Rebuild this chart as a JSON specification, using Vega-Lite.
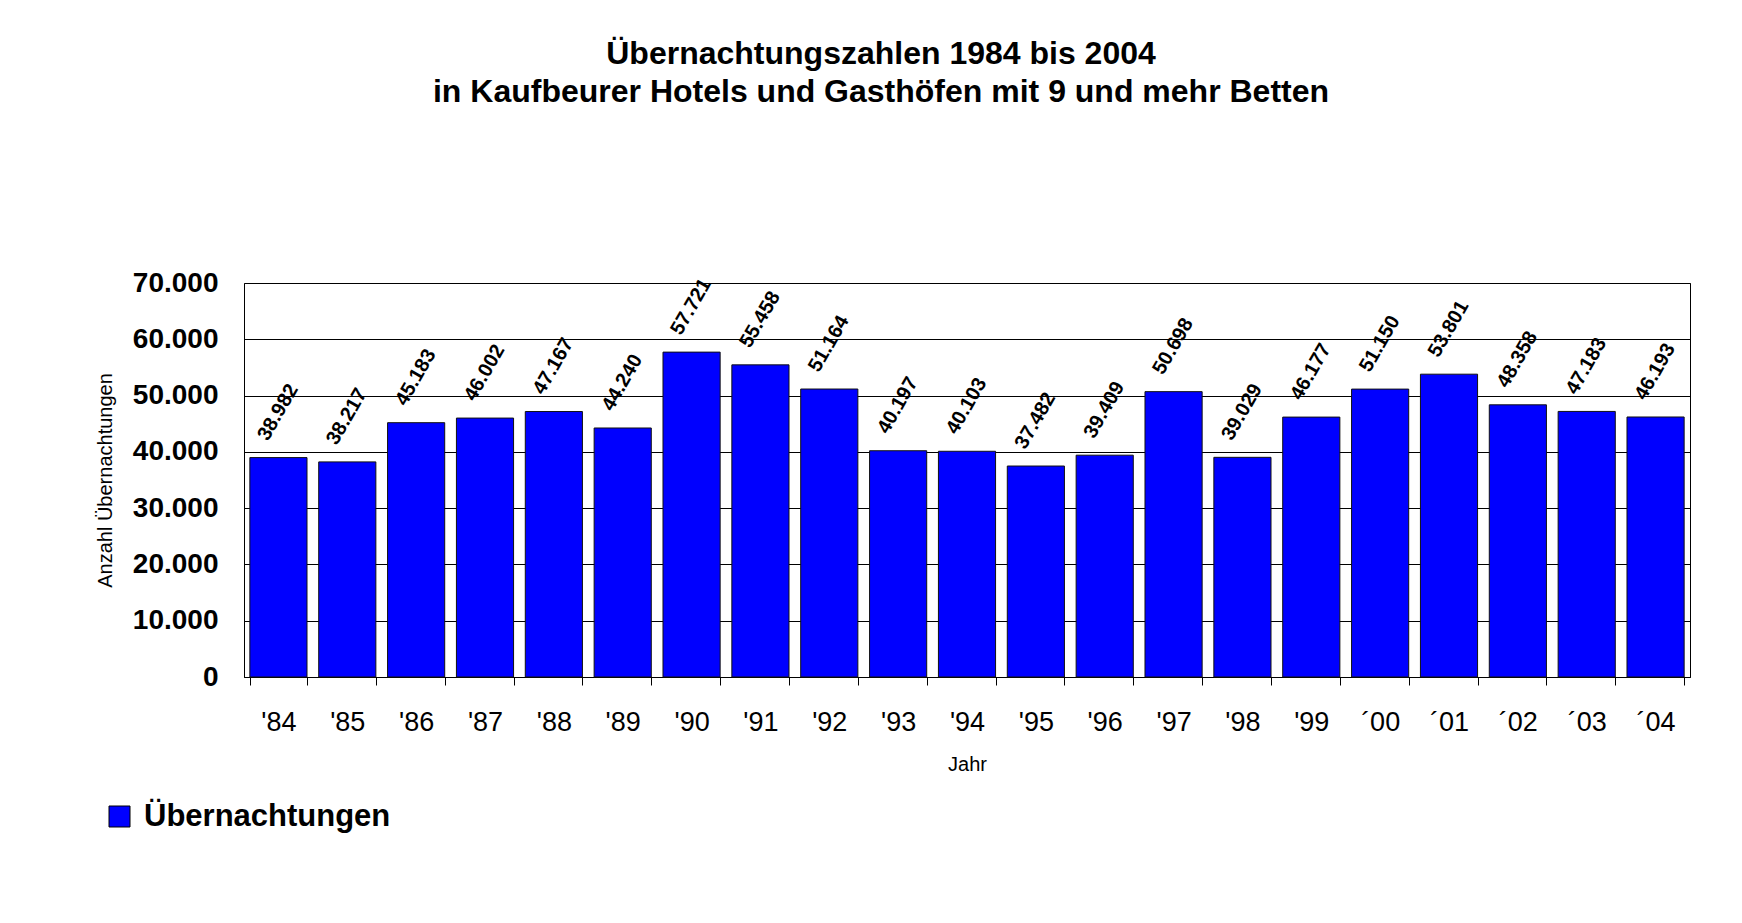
{
  "$schema": "https://vega.github.io/schema/vega-lite/v6.json",
  "autosize": {"type": "none"},
  "width": 1446,
  "height": 394,
  "padding": {"left": 244, "top": 283, "right": 52, "bottom": 246},
  "background": "white",
  "title": {
    "text": ["Übernachtungszahlen 1984 bis 2004", "in Kaufbeurer Hotels und Gasthöfen mit 9 und mehr Betten"],
    "anchor": "middle",
    "frame": "group",
    "dx": -86,
    "offset": 160,
    "font": "Liberation Sans",
    "fontSize": 32,
    "fontWeight": "bold",
    "lineHeight": 38.5,
    "color": "#000000"
  },
  "data": {
    "values": [
      {"jahr": "'84", "wert": 38982},
      {"jahr": "'85", "wert": 38217},
      {"jahr": "'86", "wert": 45183},
      {"jahr": "'87", "wert": 46002},
      {"jahr": "'88", "wert": 47167},
      {"jahr": "'89", "wert": 44240},
      {"jahr": "'90", "wert": 57721},
      {"jahr": "'91", "wert": 55458},
      {"jahr": "'92", "wert": 51164},
      {"jahr": "'93", "wert": 40197},
      {"jahr": "'94", "wert": 40103},
      {"jahr": "'95", "wert": 37482},
      {"jahr": "'96", "wert": 39409},
      {"jahr": "'97", "wert": 50698},
      {"jahr": "'98", "wert": 39029},
      {"jahr": "'99", "wert": 46177},
      {"jahr": "´00", "wert": 51150},
      {"jahr": "´01", "wert": 53801},
      {"jahr": "´02", "wert": 48358},
      {"jahr": "´03", "wert": 47183},
      {"jahr": "´04", "wert": 46193}
    ]
  },
  "encoding": {
    "x": {
      "field": "jahr",
      "type": "nominal",
      "sort": null,
      "scale": {"paddingInner": 0.17, "paddingOuter": 0.085},
      "axis": {
        "title": "Jahr",
        "labelFont": "Liberation Sans",
        "labelFontSize": 27,
        "labelAngle": 0,
        "labelColor": "#000000",
        "labelPadding": 24,
        "tickBand": "extent",
        "tickSize": 8,
        "tickColor": "#000000",
        "domainColor": "#000000",
        "grid": false,
        "titleFont": "Liberation Sans",
        "titleFontSize": 20,
        "titleFontWeight": "normal",
        "titleColor": "#000000",
        "titlePadding": 19
      }
    },
    "y": {
      "field": "wert",
      "type": "quantitative",
      "scale": {"domain": [0, 70000], "nice": false},
      "axis": {
        "title": "Anzahl Übernachtungen",
        "values": [0, 10000, 20000, 30000, 40000, 50000, 60000, 70000],
        "format": ",d",
        "labelFont": "Liberation Sans",
        "labelFontWeight": "bold",
        "labelFontSize": 28,
        "labelColor": "#000000",
        "labelPadding": 26,
        "ticks": false,
        "domain": false,
        "grid": true,
        "gridColor": "#000000",
        "gridWidth": 1,
        "gridOpacity": 1,
        "titleFont": "Liberation Sans",
        "titleFontSize": 20,
        "titleFontWeight": "normal",
        "titleColor": "#000000",
        "titlePadding": 17
      }
    }
  },
  "layer": [
    {
      "mark": {"type": "bar", "stroke": "#111111", "strokeWidth": 1},
      "encoding": {
        "color": {
          "datum": "Übernachtungen",
          "type": "nominal",
          "scale": {"range": ["#0000ff"]},
          "legend": {
            "orient": "none",
            "legendX": -140,
            "legendY": 518,
            "title": null,
            "symbolType": "square",
            "symbolSize": 441,
            "symbolStrokeColor": "#000000",
            "symbolStrokeWidth": 1,
            "labelFont": "Liberation Sans",
            "labelFontWeight": "bold",
            "labelFontSize": 31,
            "labelColor": "#000000",
            "labelOffset": 9,
            "labelLimit": 0,
            "padding": 0
          }
        }
      }
    },
    {
      "mark": {
        "type": "text",
        "angle": 300,
        "align": "center",
        "baseline": "middle",
        "dx": 39,
        "dy": -23,
        "font": "Liberation Sans",
        "fontWeight": "bold",
        "fontSize": 20,
        "color": "#000000"
      },
      "encoding": {
        "text": {"field": "wert", "type": "quantitative", "format": ",d"}
      }
    }
  ],
  "config": {
    "view": {"stroke": "#000000", "strokeWidth": 1},
    "locale": {
      "number": {"decimal": ",", "thousands": ".", "grouping": [3], "currency": ["", " €"]}
    }
  }
}
